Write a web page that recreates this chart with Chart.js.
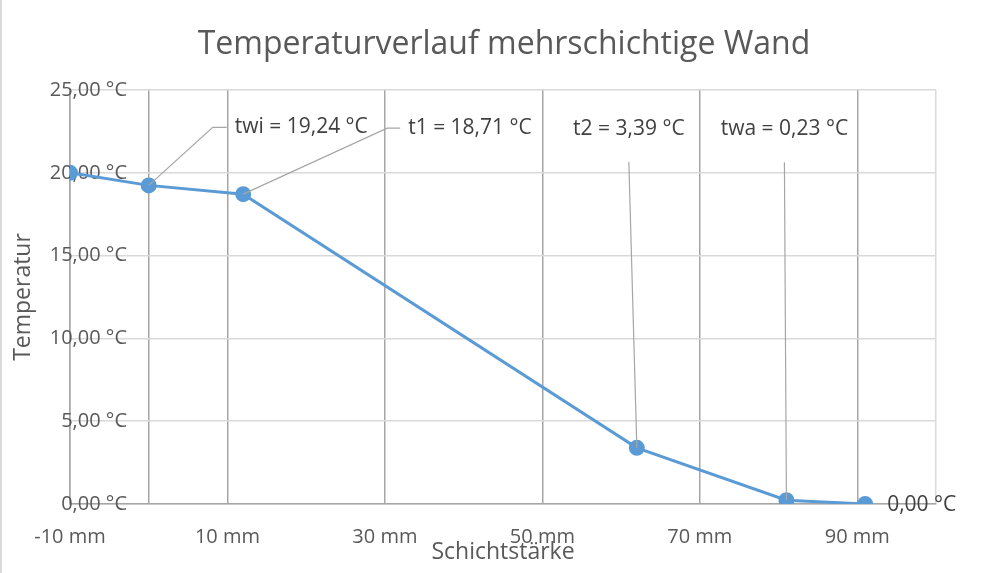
<!DOCTYPE html>
<html>
<head>
<meta charset="utf-8">
<script src="https://cdn.jsdelivr.net/npm/chart.js@4"></script>
<style>
  html, body { margin: 0; padding: 0; background: #fff; }
  #wrap { width: 1008px; height: 573px; }
</style>
</head>
<body>
<div id="wrap"><canvas id="chart" width="1008" height="573"></canvas></div>
<script>
// Messwerte: Position in der Wand (mm) und Temperatur (°C)
var positions = [-10, 0, 12, 62, 81, 91];
var temperatures = [20, 19.24, 18.71, 3.39, 0.23, 0];
var pointLabels = ["", "twi = 19,24 °C", "t1 = 18,71 °C", "t2 = 3,39 °C", "twa = 0,23 °C", "0,00 °C"];

var xTickValues = [-10, 10, 30, 50, 70, 90];
var yTickValues = [0, 5, 10, 15, 20, 25];

// Beschriftungs-Layout (Pixelversatz zum Punkt)
var labelLayout = [
  null,
  { type: "elbow", dx: 64, dy: -58, run: 14 },
  { type: "elbow", dx: 144, dy: -66, run: 13 },
  { type: "drop", dx: -8, dy: -286 },
  { type: "drop", dx: -2, dy: -338 },
  { type: "right", dx: 22, dy: 1 }
];

var points = positions.map(function (x, i) {
  return { x: x, y: temperatures[i] };
});

var FONT = "'Open Sans', 'Noto Sans', sans-serif";
var TICK_SIZE = 20;
var LABEL_SIZE = 21;
Chart.defaults.font.family = FONT;
Chart.defaults.color = "#595959";

var fmt = function (v) {
  return v.toFixed(2).replace(".", ",") + " °C";
};

// breiteste y-Beschriftung messen, damit die Labels bei x ~ 127 enden
var measure = document.createElement("canvas").getContext("2d");
measure.font = TICK_SIZE + "px " + FONT;
var widestY = Math.max.apply(null, yTickValues.map(function (v) {
  return measure.measureText(fmt(v)).width;
}));

var background = {
  id: "background",
  beforeDraw: function (chart) {
    var ctx = chart.ctx;
    ctx.save();
    ctx.fillStyle = "#fff";
    ctx.fillRect(0, 0, chart.width, chart.height);
    ctx.fillStyle = "#d9d9d9";
    ctx.fillRect(0, 0, 2, chart.height);
    ctx.restore();
  }
};

var dataLabels = {
  id: "dataLabels",
  afterDatasetsDraw: function (chart) {
    var ctx = chart.ctx;
    var meta = chart.getDatasetMeta(0);
    ctx.save();
    ctx.font = LABEL_SIZE + "px " + FONT;
    ctx.fillStyle = "#404040";
    ctx.strokeStyle = "#a6a6a6";
    ctx.lineWidth = 1.2;
    ctx.textBaseline = "middle";
    meta.data.forEach(function (el, i) {
      var lay = labelLayout[i];
      if (!lay || !pointLabels[i]) return;
      var ex = el.x + lay.dx, ey = el.y + lay.dy;
      if (lay.type === "elbow") {
        ctx.beginPath();
        ctx.moveTo(el.x, el.y);
        ctx.lineTo(ex, ey);
        ctx.lineTo(ex + lay.run, ey);
        ctx.stroke();
        ctx.textAlign = "left";
        ctx.fillText(pointLabels[i], ex + lay.run + 8, ey);
      } else if (lay.type === "drop") {
        ctx.beginPath();
        ctx.moveTo(el.x, el.y);
        ctx.lineTo(ex, ey);
        ctx.stroke();
        ctx.textAlign = "center";
        ctx.fillText(pointLabels[i], ex, ey - 33);
      } else {
        ctx.textAlign = "left";
        ctx.fillText(pointLabels[i], ex, ey);
      }
    });
    ctx.restore();
  }
};

new Chart(document.getElementById("chart"), {
  type: "line",
  data: {
    datasets: [
      {
        label: "Temperatur",
        data: points,
        borderColor: "#5b9bd5",
        backgroundColor: "#5b9bd5",
        borderWidth: 3,
        pointRadius: 6.5,
        pointHoverRadius: 6.5,
        pointBackgroundColor: "#5b9bd5",
        pointBorderColor: "#5b9bd5",
        tension: 0
      }
    ]
  },
  options: {
    responsive: false,
    animation: false,
    devicePixelRatio: 1,
    layout: { padding: { left: 0, right: 0, top: 0, bottom: 5 } },
    plugins: {
      legend: { display: false },
      tooltip: { enabled: false },
      title: {
        display: true,
        text: "Temperaturverlauf mehrschichtige Wand",
        color: "#595959",
        font: { size: 32, weight: "normal" },
        padding: { top: 26, bottom: 25.6 }
      }
    },
    scales: {
      x: {
        type: "linear",
        min: -10,
        max: 100,
        afterBuildTicks: function (scale) {
          var vals = [-10, 0, 10, 30, 50, 70, 90, 100];
          scale.ticks = vals.map(function (v) { return { value: v }; });
        },
        afterFit: function (scale) { scale.height = 64; },
        grid: {
          drawTicks: false,
          lineWidth: 1.5,
          color: function (c) {
            return c.tick && c.tick.value === 100 ? "#d9d9d9" : "#a6a6a6";
          }
        },
        border: { display: true, color: "#a6a6a6", width: 1.5 },
        ticks: {
          autoSkip: false,
          maxRotation: 0,
          padding: 21,
          color: "#595959",
          font: { size: TICK_SIZE },
          callback: function (v) {
            return xTickValues.indexOf(v) >= 0 ? v + " mm" : "";
          }
        },
        title: {
          display: true,
          text: "Schichtstärke",
          color: "#595959",
          font: { size: 23 },
          padding: 2
        }
      },
      y: {
        min: 0,
        max: 25,
        afterBuildTicks: function (scale) {
          scale.ticks = yTickValues.map(function (v) { return { value: v }; });
        },
        afterFit: function (scale) { scale.width = 70; },
        grid: { drawTicks: false, lineWidth: 1.5, color: "#d9d9d9" },
        border: { display: true, color: "#a6a6a6", width: 1.5 },
        ticks: {
          mirror: true,
          crossAlign: "far",
          padding: 57 - widestY,
          color: "#595959",
          font: { size: TICK_SIZE },
          callback: function (v) { return fmt(v); }
        },
        title: {
          display: true,
          text: "Temperatur",
          color: "#595959",
          font: { size: 23 },
          padding: { top: 10, bottom: 0 }
        }
      },
      // leere rechte Achse als Platzhalter, damit der Titel mittig sitzt
      yRight: {
        position: "right",
        min: 0,
        max: 25,
        afterFit: function (scale) { scale.width = 72; },
        grid: { display: false, drawTicks: false },
        border: { display: false },
        ticks: { display: false }
      }
    }
  },
  plugins: [background, dataLabels]
});
</script>
</body>
</html>
